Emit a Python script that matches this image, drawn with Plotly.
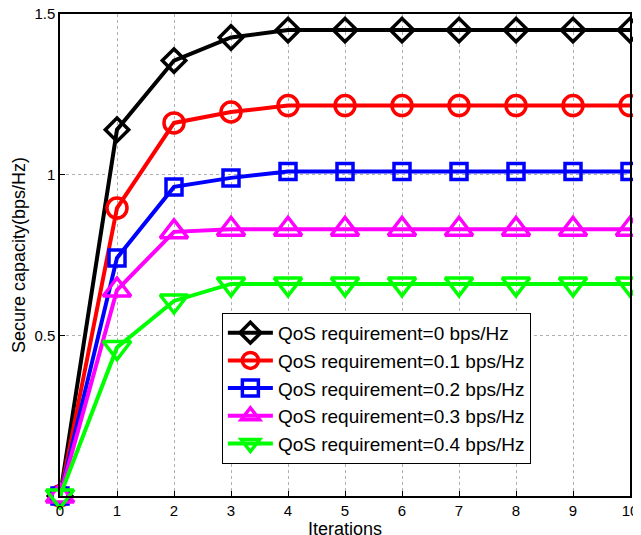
import plotly.graph_objects as go

iterations = list(range(11))
qos0 = [0, 1.14, 1.355, 1.427, 1.45, 1.45, 1.45, 1.45, 1.45, 1.45, 1.45]
qos1 = [0, 0.896, 1.161, 1.195, 1.215, 1.215, 1.215, 1.215, 1.215, 1.215, 1.215]
qos2 = [0, 0.741, 0.962, 0.99, 1.01, 1.01, 1.01, 1.01, 1.01, 1.01, 1.01]
qos3 = [0, 0.641, 0.822, 0.83, 0.83, 0.83, 0.83, 0.83, 0.83, 0.83, 0.83]
qos4 = [0, 0.462, 0.607, 0.66, 0.66, 0.66, 0.66, 0.66, 0.66, 0.66, 0.66]

names = ["QoS requirement=0 bps/Hz", "QoS requirement=0.1 bps/Hz",
         "QoS requirement=0.2 bps/Hz", "QoS requirement=0.3 bps/Hz",
         "QoS requirement=0.4 bps/Hz"]
series = [qos0, qos1, qos2, qos3, qos4]
colors = ["#000000", "#ff0000", "#0000ff", "#ff00ff", "#00ff00"]
symbols = ["diamond-open", "circle-open", "square-open", "triangle-up-open", "triangle-down-open"]
sizes = [18, 20, 16, 24, 24]

fig = go.Figure()
for name, ys, c, s, sz in zip(names, series, colors, symbols, sizes):
    fig.add_trace(go.Scatter(
        x=iterations, y=ys, name=name, mode="lines+markers",
        line=dict(color=c, width=4),
        marker=dict(symbol=s, size=sz, color=c, line=dict(color=c, width=3.5)),
        cliponaxis=False,
    ))

axis_common = dict(
    showline=True, linecolor="black", linewidth=1.5, mirror=True,
    ticks="inside", ticklen=5, tickcolor="black",
    showgrid=True, gridcolor="#b0b0b0", griddash="dot", gridwidth=1,
    zeroline=False, automargin=False, ticklabeloverflow="allow",
    tickfont=dict(family="Liberation Sans, Arial", size=15, color="black"),
)

# page body has an 8px default margin, so the figure is sized/offset to compensate
fig.update_layout(
    width=633, height=527,
    margin=dict(l=52, r=11, t=6, b=39, autoexpand=False),
    paper_bgcolor="white", plot_bgcolor="white",
    font=dict(family="Liberation Sans, Arial", color="black"),
    xaxis=dict(range=[0, 10], tickvals=list(range(11)), **axis_common),
    yaxis=dict(range=[0, 1.5], tickvals=[0.5, 1, 1.5], ticktext=["0.5", "1", "1.5"],
               title=dict(text="Secure capacity(bps/Hz)", font=dict(size=18), standoff=4),
               **axis_common),
    legend=dict(
        x=0.284, y=0.38, xanchor="left", yanchor="top",
        bgcolor="white", bordercolor="black", borderwidth=1,
        font=dict(size=19, family="Liberation Sans, Arial"),
        tracegroupgap=0, itemwidth=45,
    ),
    annotations=[dict(
        text="Iterations", xref="paper", yref="paper", x=0.5, y=0,
        xanchor="center", yanchor="middle", yshift=-33, showarrow=False,
        font=dict(size=18, family="Liberation Sans, Arial", color="black"),
    )],
)

fig.write_html("out.html")
